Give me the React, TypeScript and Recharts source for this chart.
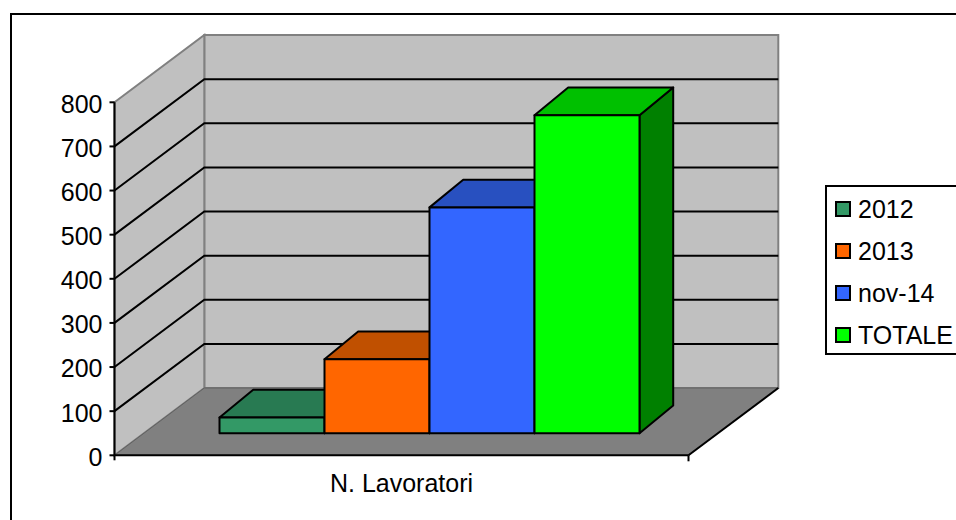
import { Bar, BarChart, Legend, ReferenceArea, ReferenceLine, XAxis, YAxis } from "recharts";

const categories = ["N. Lavoratori"];
const seriesNames = ["2012", "2013", "nov-14", "TOTALE"];
const seriesValues = [36, 168, 512, 721];
const yTicks = [0, 100, 200, 300, 400, 500, 600, 700, 800];

const FRONT = ["#339966", "#FF6600", "#3366FF", "#00FF00"];
const TOP = ["#287A52", "#C05000", "#2850C0", "#00C000"];
const SIDE = ["#1A4D33", "#803300", "#1A3380", "#008000"];

const FONT = "'Liberation Sans', Arial, sans-serif";

// depth of the box and how far the bars sit inside it
const DEPTH_X = 89.8;
const DEPTH_Y = -67.3;
const BAR_SHIFT_X = 27;
const BAR_SHIFT_Y = -22;
const BAR_DEPTH_X = 33.7;
const BAR_DEPTH_Y = -27.7;

const chartData = categories.map((name) => {
  const row: Record<string, string | number> = { name };
  seriesNames.forEach((s, i) => {
    row[s] = seriesValues[i];
  });
  return row;
});

function pts(list: number[][]) {
  return list.map((p) => p.join(",")).join(" ");
}

// walls and floor, sized from the plot area the chart hands over
function Walls({ x, y, width, height }: any) {
  const l = x;
  const r = x + width;
  const t = y;
  const b = y + height;
  return (
    <g>
      <polygon
        points={pts([[l + DEPTH_X, t + DEPTH_Y], [r + DEPTH_X, t + DEPTH_Y], [r + DEPTH_X, b + DEPTH_Y], [l + DEPTH_X, b + DEPTH_Y]])}
        fill="#C0C0C0"
        stroke="#808080"
        strokeWidth={2}
      />
      <polygon
        points={pts([[l, t], [l + DEPTH_X, t + DEPTH_Y], [l + DEPTH_X, b + DEPTH_Y], [l, b]])}
        fill="#C0C0C0"
        stroke="#808080"
        strokeWidth={2}
      />
      <polygon
        points={pts([[l, b], [l + DEPTH_X, b + DEPTH_Y], [r + DEPTH_X, b + DEPTH_Y], [r, b]])}
        fill="#808080"
        stroke="#606060"
        strokeWidth={1}
      />
      <line x1={r} y1={b} x2={r + DEPTH_X} y2={b + DEPTH_Y} stroke="#000" strokeWidth={2} />
      <line x1={l} y1={b} x2={l} y2={b + 5} stroke="#000" strokeWidth={2} />
      <line x1={r} y1={b} x2={r} y2={b + 6} stroke="#000" strokeWidth={2} />
    </g>
  );
}

function GridLine({ x1, y1, x2 }: any) {
  return (
    <polyline
      points={pts([[x1, y1], [x1 + DEPTH_X, y1 + DEPTH_Y], [x2 + DEPTH_X, y1 + DEPTH_Y]])}
      fill="none"
      stroke="#000"
      strokeWidth={2}
    />
  );
}

function makeBox(index: number) {
  return function Box({ x, y, width, height }: any) {
    const l = x + BAR_SHIFT_X;
    const r = l + width;
    const t = y + BAR_SHIFT_Y;
    const b = t + height;
    const dx = BAR_DEPTH_X;
    const dy = BAR_DEPTH_Y;
    return (
      <g stroke="#000" strokeWidth={2} strokeLinejoin="round">
        <polygon points={pts([[r, t], [r + dx, t + dy], [r + dx, b + dy], [r, b]])} fill={SIDE[index]} />
        <polygon points={pts([[l, t], [l + dx, t + dy], [r + dx, t + dy], [r, t]])} fill={TOP[index]} />
        <rect x={l} y={t} width={width} height={height} fill={FRONT[index]} />
      </g>
    );
  };
}

function LegendBox() {
  return (
    <div
      style={{
        boxSizing: "border-box",
        width: 150,
        height: 170,
        border: "2px solid #000",
        background: "#fff",
        fontFamily: FONT,
        fontSize: 25,
        color: "#000",
        paddingTop: 1,
      }}
    >
      {seriesNames.map((s, i) => (
        <div key={s} style={{ display: "flex", alignItems: "center", height: 42, paddingLeft: 8 }}>
          <span
            style={{
              boxSizing: "border-box",
              width: 16,
              height: 16,
              border: "2px solid #000",
              background: FRONT[i],
              marginRight: 7,
            }}
          />
          <span>{s}</span>
        </div>
      ))}
    </div>
  );
}

export default function App() {
  return (
    <div style={{ position: "absolute", left: 0, top: 0, width: 956, height: 520, overflow: "hidden", background: "#fff" }}>
      <div
        style={{
          position: "absolute",
          left: 10,
          top: 13,
          width: 1000,
          height: 600,
          border: "2px solid #000",
        }}
      />
      <div style={{ position: "absolute", left: 0, top: 0 }}>
        <BarChart
          width={956}
          height={520}
          data={chartData}
          margin={{ top: 102.3, right: 267.5, bottom: 0, left: 0 }}
          barCategoryGap={78}
          barGap={0}
        >
          <ReferenceArea y1={0} y2={800} shape={Walls} fill="none" stroke="none" zIndex={50} />
          {yTicks
            .filter((t) => t > 0 && t < 800)
            .map((t) => (
              <ReferenceLine key={t} y={t} shape={GridLine} zIndex={60} />
            ))}
          <XAxis
            dataKey="name"
            height={64.7}
            axisLine={{ stroke: "#000", strokeWidth: 2 }}
            tickLine={false}
            tickMargin={13}
            tick={{ fill: "#000", fontSize: 25, fontFamily: FONT }}
          />
          <YAxis
            width={114.5}
            domain={[0, 800]}
            ticks={yTicks}
            interval={0}
            axisLine={{ stroke: "#000", strokeWidth: 2 }}
            tickLine={{ stroke: "#000", strokeWidth: 2 }}
            tickSize={5}
            tickMargin={7}
            tick={{ fill: "#000", fontSize: 25, fontFamily: FONT, dy: 1.5 }}
          />
          {seriesNames.map((s, i) => (
            <Bar key={s} dataKey={s} shape={makeBox(i)} isAnimationActive={false} />
          ))}
          <Legend
            layout="vertical"
            align="center"
            verticalAlign="middle"
            content={LegendBox}
            wrapperStyle={{ left: 825, top: 185, width: 150, height: 170, bottom: "auto", right: "auto", margin: 0 }}
          />
        </BarChart>
      </div>
    </div>
  );
}
